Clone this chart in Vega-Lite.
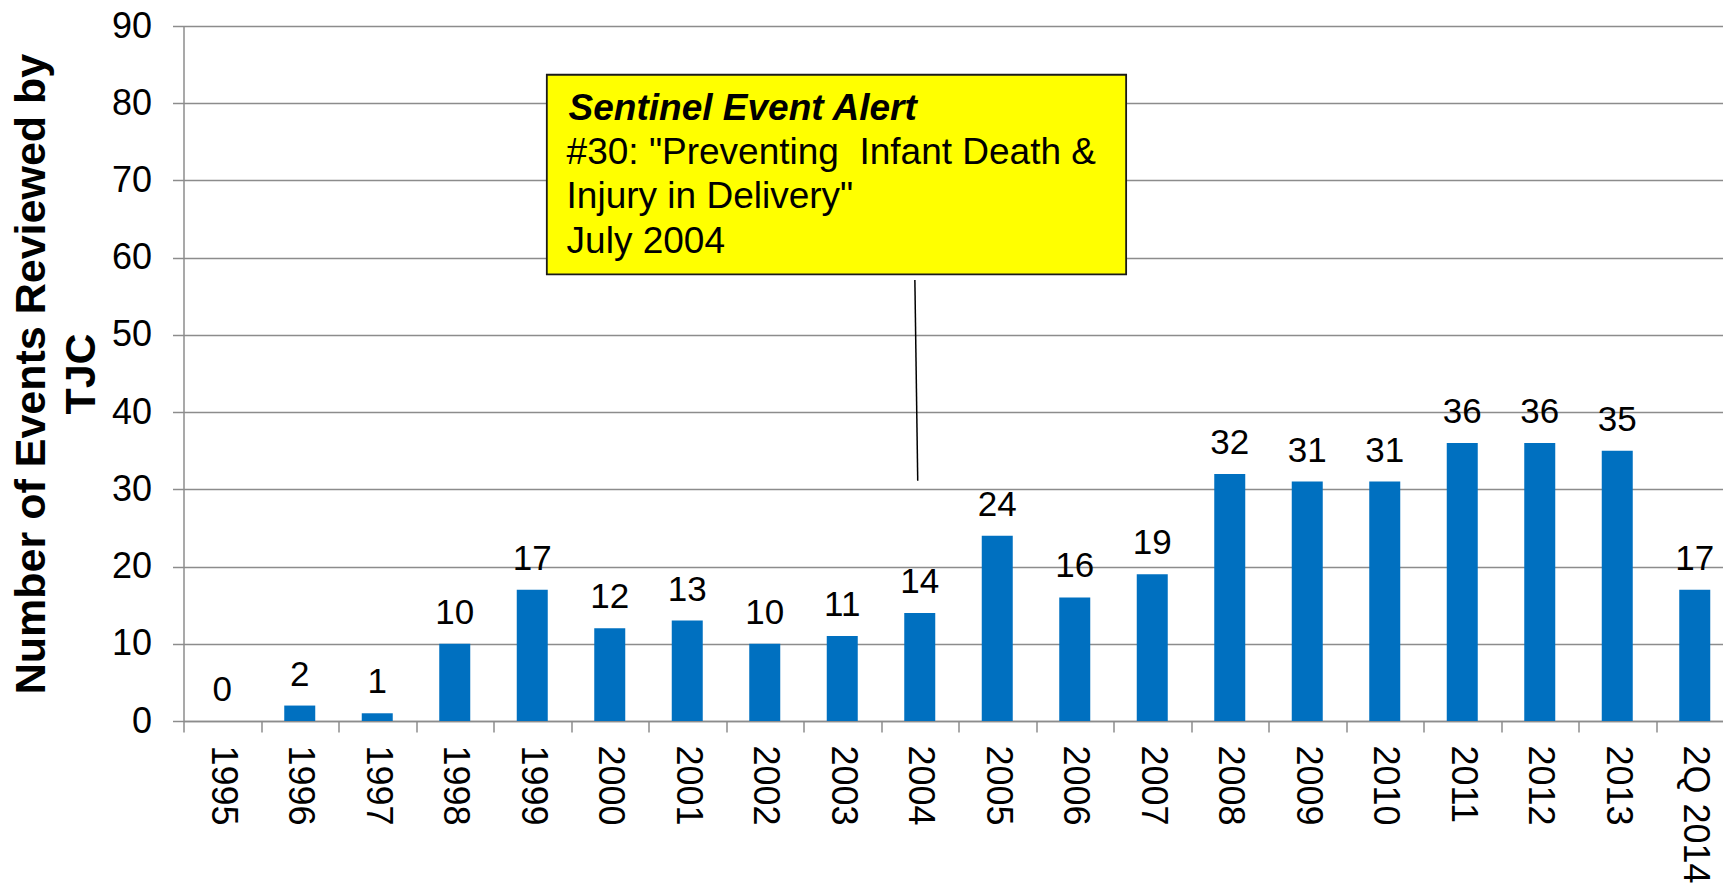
{
  "$schema": "https://vega.github.io/schema/vega-lite/v6.json",
  "width": 1540,
  "height": 695,
  "autosize": {"type": "none"},
  "padding": {"left": 183.5, "top": 26, "right": 0, "bottom": 165},
  "background": "white",
  "config": {"view": {"stroke": null}, "font": "Liberation Sans"},
  "layer": [
    {
      "data": {"values": [
        {"period": "1995", "count": 0},
        {"period": "1996", "count": 2},
        {"period": "1997", "count": 1},
        {"period": "1998", "count": 10},
        {"period": "1999", "count": 17},
        {"period": "2000", "count": 12},
        {"period": "2001", "count": 13},
        {"period": "2002", "count": 10},
        {"period": "2003", "count": 11},
        {"period": "2004", "count": 14},
        {"period": "2005", "count": 24},
        {"period": "2006", "count": 16},
        {"period": "2007", "count": 19},
        {"period": "2008", "count": 32},
        {"period": "2009", "count": 31},
        {"period": "2010", "count": 31},
        {"period": "2011", "count": 36},
        {"period": "2012", "count": 36},
        {"period": "2013", "count": 35},
        {"period": "2Q 2014", "count": 17}
      ]},
      "encoding": {
        "x": {
          "field": "period", "type": "nominal", "sort": null,
          "scale": {"range": [0, 1550], "paddingInner": 0, "paddingOuter": 0},
          "axis": {
            "title": null,
            "labelAngle": 90, "labelAlign": "left", "labelBaseline": "middle",
            "labelFontSize": 36, "labelColor": "black", "labelPadding": 13,
            "tickBand": "extent", "tickSize": 11, "tickColor": "#8c8c8c", "tickWidth": 1.5,
            "domainColor": "#8c8c8c", "domainWidth": 1.5,
            "labelOverlap": false, "labelLimit": 400
          }
        },
        "y": {
          "field": "count", "type": "quantitative",
          "scale": {"domain": [0, 90], "nice": false},
          "axis": {
            "title": ["Number of Events Reviewed by", "TJC"],
            "titleFontSize": 43, "titleFontWeight": "bold", "titleColor": "black",
            "titleLineHeight": 50, "titlePadding": 8,
            "values": [0, 10, 20, 30, 40, 50, 60, 70, 80, 90],
            "labelFontSize": 36, "labelColor": "black", "labelPadding": 21,
            "tickSize": 11, "tickColor": "#8c8c8c", "tickWidth": 1.5,
            "domainColor": "#8c8c8c", "domainWidth": 1.5,
            "grid": true, "gridColor": "#8c8c8c", "gridWidth": 1.5
          }
        }
      },
      "layer": [
        {"mark": {"type": "bar", "color": "#0070C0", "width": {"band": 0.4}}},
        {
          "mark": {"type": "text", "fontSize": 35, "color": "black", "baseline": "alphabetic", "dy": -20},
          "encoding": {"text": {"field": "count", "type": "quantitative"}}
        }
      ]
    },
    {
      "encoding": {},
      "layer": [
        {
          "data": {"values": [{"x": 4.688, "x2": 12.163, "y": 83.69, "y2": 57.84}]},
          "mark": {"type": "rect", "fill": "#FFFF00", "stroke": "#1a1a1a", "strokeWidth": 1.8},
          "encoding": {
            "x": {"field": "x", "type": "quantitative", "scale": {"domain": [0, 20], "range": [0, 1550], "nice": false, "zero": false}, "axis": null},
            "x2": {"field": "x2"},
            "y": {"field": "y", "type": "quantitative", "axis": null},
            "y2": {"field": "y2"}
          }
        },
        {
          "data": {"values": [{"x": 9.437, "x2": 9.474, "y": 57.11, "y2": 31.12}]},
          "mark": {"type": "rule", "color": "black", "strokeWidth": 1.5},
          "encoding": {
            "x": {"field": "x", "type": "quantitative", "axis": null},
            "x2": {"field": "x2"},
            "y": {"field": "y", "type": "quantitative", "axis": null},
            "y2": {"field": "y2"}
          }
        },
        {
          "data": {"values": [{"label": "Sentinel Event Alert", "x": 4.969, "y": 77.83}]},
          "mark": {"type": "text", "align": "left", "baseline": "alphabetic", "fontSize": 37, "fontWeight": "bold", "fontStyle": "italic", "color": "black"},
          "encoding": {
            "x": {"field": "x", "type": "quantitative", "axis": null},
            "y": {"field": "y", "type": "quantitative", "axis": null},
            "text": {"field": "label", "type": "nominal"}
          }
        },
        {
          "data": {"values": [{"label": ["#30: \"Preventing \u00a0Infant Death &", "Injury in Delivery\"", "July 2004"], "x": 4.943, "y": 72.13}]},
          "mark": {"type": "text", "align": "left", "baseline": "alphabetic", "fontSize": 37, "lineHeight": 44.5, "color": "black"},
          "encoding": {
            "x": {"field": "x", "type": "quantitative", "axis": null},
            "y": {"field": "y", "type": "quantitative", "axis": null},
            "text": {"field": "label", "type": "nominal"}
          }
        }
      ]
    }
  ],
  "resolve": {"scale": {"x": "independent"}, "axis": {"x": "independent", "y": "independent"}}
}
